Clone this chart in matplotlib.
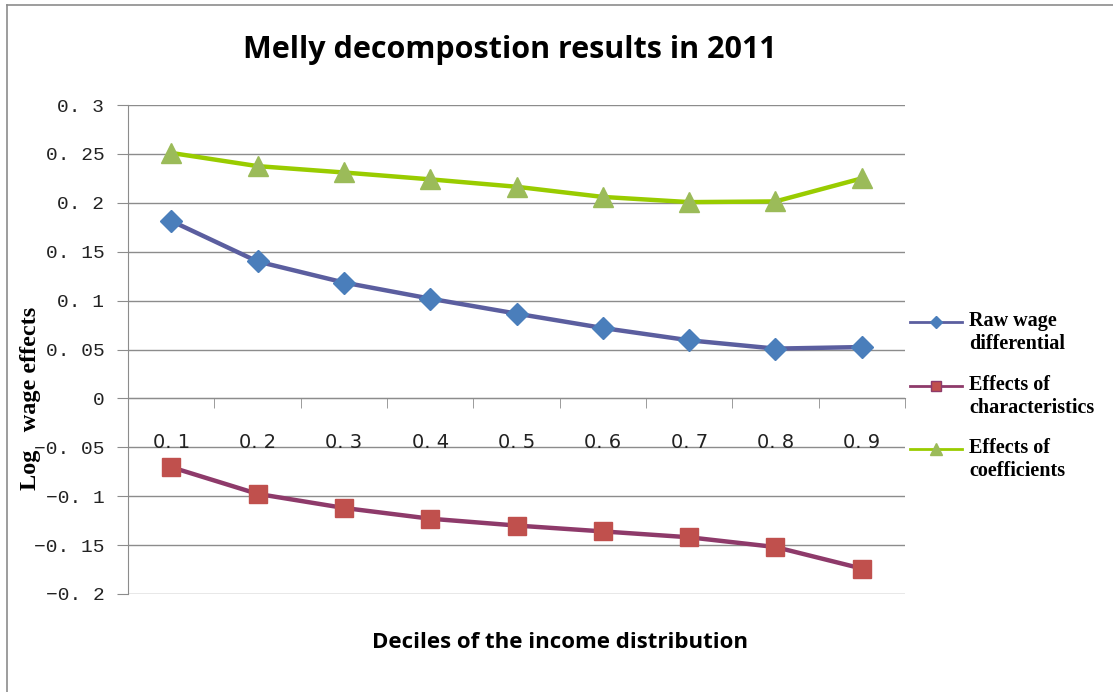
import matplotlib
matplotlib.use("Agg")
from matplotlib import pyplot as plt
from matplotlib.lines import Line2D

deciles = ['0.1', '0.2', '0.3', '0.4', '0.5', '0.6', '0.7', '0.8', '0.9']
raw_wage = [0.1815, 0.140, 0.1185, 0.102, 0.0867, 0.072, 0.0594, 0.0509, 0.0525]
caracteristicas = [-0.0703, -0.0976, -0.112, -0.123, -0.130, -0.136, -0.142, -0.152, -0.174]
coeficientes = [0.251, 0.2375, 0.231, 0.224, 0.2164, 0.206, 0.2007, 0.2014, 0.225]
y_ticks = [-0.2, -0.15, -0.1, -0.05, 0, 0.05, 0.1, 0.15, 0.2, 0.25, 0.3]

series = [
    ('Raw wage\ndifferential', raw_wage, '#5b5e9f', '#4a7ebb', 'D', 11),
    ('Effects of\ncharacteristics', caracteristicas, '#8e3a6a', '#c0504d', 's', 13),
    ('Effects of\ncoefficients', coeficientes, '#99cc00', '#9bbb59', '^', 14),
]

W, H = 1113, 692
fig = plt.figure(figsize=(W / 100, H / 100), dpi=100)
ax = fig.add_axes([128 / W, 1 - 594 / H, (905 - 128) / W, (594 - 105) / H])

x = list(range(len(deciles)))
for nome, valores, cor_linha, cor_marcador, marcador, tam in series:
    ax.plot(x, valores, color=cor_linha, linewidth=3.2, marker=marcador,
            markersize=tam, markerfacecolor=cor_marcador, markeredgecolor=cor_marcador,
            zorder=3)

ax.set_xlim(-0.5, len(deciles) - 0.5)
ax.set_ylim(-0.2, 0.3)
ax.set_yticks(y_ticks)
ax.set_yticklabels([('%g' % v).replace('0.', '0. ').replace('-', '\u2212') for v in y_ticks])
for v in y_ticks:
    ax.axhline(v, color='#8c8c8c', linewidth=1.0, zorder=1)

ax.set_xticks(x)
ax.set_xticklabels([d.replace('.', '. ') for d in deciles])
ax.set_xticks([i + 0.5 for i in range(-1, len(deciles))], minor=True)
ax.tick_params(axis='x', which='major', length=0, pad=25, labelsize=14, labelcolor='#222222')
ax.tick_params(axis='x', which='minor', length=7, color='#8c8c8c', direction='out')
ax.tick_params(axis='y', length=8, color='#8c8c8c', pad=9, labelsize=14, labelcolor='#222222')
for rotulo in ax.get_xticklabels() + ax.get_yticklabels():
    rotulo.set_family('Liberation Mono')

for lado in ['top', 'right']:
    ax.spines[lado].set_visible(False)
ax.spines['bottom'].set_position(('data', 0))
ax.spines['bottom'].set_color('#8c8c8c')
ax.spines['left'].set_color('#8c8c8c')

fig.text(510 / W, 1 - 50 / H, 'Melly decompostion results in 2011',
         ha='center', va='center', family='Open Sans', weight='bold', fontsize=22)
fig.text(560 / W, 1 - 643 / H, 'Deciles of the income distribution',
         ha='center', va='center', family='Open Sans', weight='bold', fontsize=16)
fig.text(31 / W, 1 - 398 / H, 'Log   wage effects', rotation=90,
         ha='center', va='center', family='Liberation Serif', weight='bold', fontsize=17.5)

# legenda feita a mao (o excel alinha o marcador com a primeira linha)
ys_legenda = [322, 386, 449]
for (nome, valores, cor_linha, cor_marcador, marcador, tam), yl in zip(series, ys_legenda):
    fy = 1 - yl / H
    fig.add_artist(Line2D([910 / W, 962 / W], [fy, fy], color=cor_linha, linewidth=2))
    fig.add_artist(Line2D([936 / W], [fy], marker=marcador, markersize=tam * 0.6,
                          color=cor_marcador, markeredgecolor=cor_linha if marcador == 's' else cor_marcador))
    fig.text(969 / W, 1 - (yl - 11) / H, nome, ha='left', va='top', family='Liberation Serif',
             weight='bold', fontsize=14.5, linespacing=1.2)

fig.add_artist(Line2D([7 / W, 7 / W], [0, 1 - 5 / H], color='#8c8c8c', linewidth=1.2))
fig.add_artist(Line2D([7 / W, 1], [1 - 5 / H, 1 - 5 / H], color='#8c8c8c', linewidth=1.2))

fig.savefig('out.png', dpi=100)
